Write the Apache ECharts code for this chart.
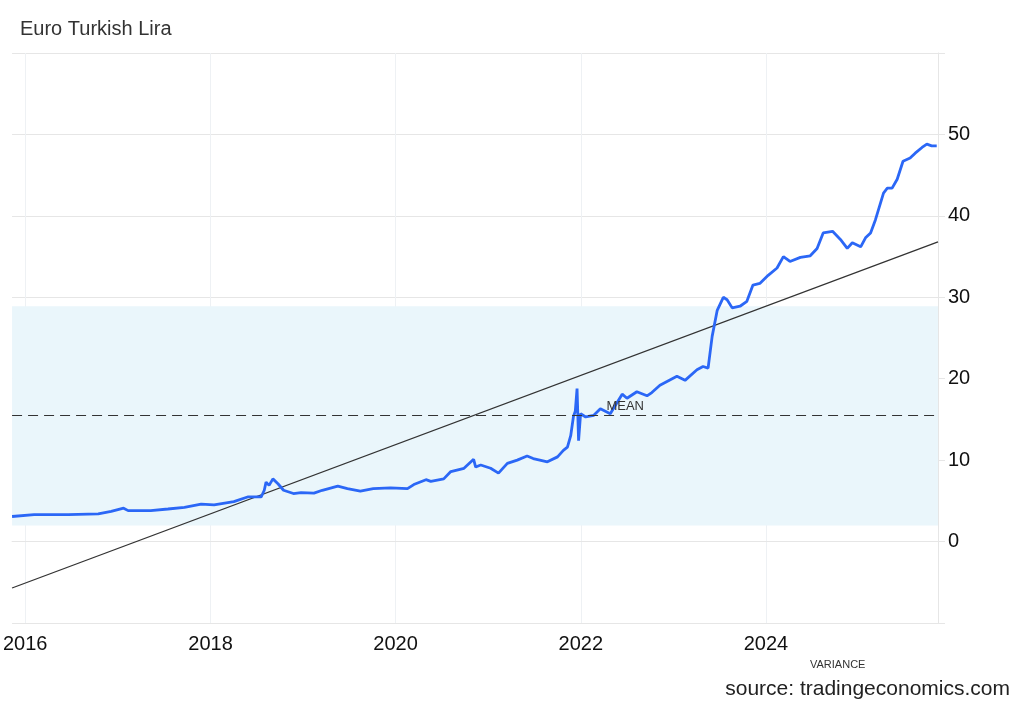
<!DOCTYPE html>
<html>
<head>
<meta charset="utf-8">
<script src="https://cdn.jsdelivr.net/npm/echarts@6/dist/echarts.min.js"></script>
<style>
html,body{margin:0;padding:0;background:#fff;}
#chart{width:1024px;height:710px;}
</style>
</head>
<body>
<div id="chart"></div>
<script>
// ---- data ----
const dates = [
  '2015-11-10','2016-02-05','2016-06-18','2016-10-15','2016-12-05','2017-01-23','2017-02-10','2017-05-10',
  '2017-07-17','2017-09-20','2017-11-25','2018-01-15','2018-04-03','2018-05-30','2018-07-20','2018-08-01',
  '2018-08-08','2018-08-20','2018-09-04','2018-09-24','2018-10-16','2018-11-24','2018-12-24','2019-02-13',
  '2019-03-18','2019-05-18','2019-06-25','2019-08-15','2019-10-05','2019-12-12','2020-02-17','2020-03-13',
  '2020-04-30','2020-05-19','2020-07-09','2020-08-06','2020-09-27','2020-11-04','2020-11-12','2020-12-02',
  '2021-01-10','2021-02-10','2021-03-17','2021-04-25','2021-06-03','2021-06-27','2021-08-22','2021-10-01',
  '2021-10-24','2021-11-09','2021-11-22','2021-12-03','2021-12-10','2021-12-17','2021-12-23','2021-12-31',
  '2022-01-20','2022-02-21','2022-03-19','2022-04-27','2022-06-13','2022-07-02','2022-08-10','2022-09-19',
  '2022-10-08','2022-11-09','2023-01-15','2023-02-16','2023-04-04','2023-04-28','2023-05-18','2023-06-03',
  '2023-06-23','2023-07-17','2023-08-01','2023-08-21','2023-09-21','2023-10-18','2023-11-11','2023-12-08',
  '2024-01-10','2024-02-14','2024-03-10','2024-04-05','2024-05-16','2024-06-24','2024-07-21','2024-08-14',
  '2024-09-20','2024-10-21','2024-11-17','2024-12-07','2025-01-09','2025-01-28','2025-02-17','2025-03-08',
  '2025-04-09','2025-04-24','2025-05-13','2025-06-02','2025-06-25','2025-07-23','2025-08-12','2025-09-08',
  '2025-09-27','2025-10-16','2025-11-05'
];
const eurTry = [
  3.08,3.3,3.3,3.4,3.7,4.1,3.8,3.8,
  4.0,4.2,4.6,4.5,4.9,5.5,5.5,6.3,
  7.3,6.9,7.7,7.1,6.3,5.9,6.0,5.95,
  6.3,6.8,6.5,6.2,6.5,6.6,6.5,7.0,
  7.6,7.4,7.7,8.6,9.0,10.1,9.15,9.4,
  9.0,8.4,9.6,10.0,10.5,10.2,9.8,10.4,
  11.2,11.6,13.0,15.4,16.0,18.8,12.4,15.7,
  15.3,15.5,16.3,15.7,18.1,17.6,18.4,17.9,
  18.3,19.2,20.3,19.8,21.1,21.5,21.3,25.2,
  28.4,30.0,29.7,28.7,28.9,29.5,31.5,31.7,
  32.7,33.6,35.0,34.4,34.9,35.1,36.0,37.9,
  38.1,37.1,36.0,36.7,36.2,37.3,37.9,39.5,
  42.8,43.4,43.4,44.5,46.7,47.1,47.7,48.4,
  48.8,48.6,48.6
];
const xRange = ['2015-11-10', '2025-11-10'];
const yearTicks = ['2016-01-01','2018-01-01','2020-01-01','2022-01-01','2024-01-01'];
const yTicks = [0, 10, 20, 30, 40, 50];
const trendValues = [-5.7, 36.8];
const meanValue = 15.5;
const bandRange = [1.97, 28.9];
const meanLabelDate = '2022-06-25';

const toTs = d => Date.parse(d + 'T00:00:00Z');
const FONT = "'Liberation Sans', Arial, Helvetica, sans-serif";
const chart = echarts.init(document.getElementById('chart'), null, {renderer: 'canvas'});

const lineData = dates.map((d, i) => [toTs(d), eurTry[i]]);
const trendData = xRange.map((d, i) => [toTs(d), trendValues[i]]);
const yearTickTs = yearTicks.map(toTs);

chart.setOption({
  animation: false,
  backgroundColor: '#ffffff',
  textStyle: {fontFamily: FONT},
  title: {
    text: 'Euro Turkish Lira',
    left: 15, top: 14,
    textStyle: {fontFamily: FONT, fontSize: 20, fontWeight: 'normal', color: '#333333'}
  },
  graphic: [
    {type: 'text', right: 14, top: 679,
     style: {text: 'source: tradingeconomics.com', fontFamily: FONT, fontSize: 21, fill: '#222222'}},
    {type: 'text', left: 810, top: 659,
     style: {text: 'VARIANCE', fontFamily: FONT, fontSize: 11, fill: '#333333'}}
  ],
  grid: {left: 11, right: 86, top: 53, bottom: 87, containLabel: false},
  xAxis: {
    type: 'value',
    min: toTs(xRange[0]), max: toTs(xRange[1]),
    axisLine: {show: true, lineStyle: {color: '#e6e6e6', width: 1}},
    axisTick: {show: false, customValues: yearTickTs},
    axisLabel: {
      customValues: yearTickTs,
      formatter: v => String(new Date(v).getUTCFullYear()),
      fontFamily: FONT, fontSize: 20, color: '#111111', margin: 11
    },
    splitLine: {show: true, lineStyle: {color: '#eef1f4', width: 1}}
  },
  yAxis: {
    type: 'value',
    position: 'right',
    min: -10, max: 60, interval: 10,
    axisLine: {show: true, lineStyle: {color: '#e6e6e6', width: 1}},
    axisTick: {show: true, length: 7, lineStyle: {color: '#e6e6e6'}},
    axisLabel: {
      formatter: v => (yTicks.indexOf(v) >= 0 ? String(v) : ''),
      fontFamily: FONT, fontSize: 20, color: '#111111', margin: 10,
      padding: [4, 0, 0, 0]
    },
    splitLine: {show: true, lineStyle: {color: '#e6e6e6', width: 1}}
  },
  series: [
    {
      name: 'Trend',
      type: 'line',
      data: trendData,
      showSymbol: false,
      silent: true,
      z: 3,
      lineStyle: {color: '#333333', width: 1.3}
    },
    {
      name: 'EURTRY',
      type: 'line',
      data: lineData,
      showSymbol: false,
      z: 4,
      lineStyle: {color: '#2b67f6', width: 2.8},
      markArea: {
        silent: true,
        itemStyle: {color: '#eaf6fb'},
        data: [[{yAxis: bandRange[0]}, {yAxis: bandRange[1]}]]
      },
      markLine: {
        silent: true,
        symbol: 'none',
        label: {show: false},
        lineStyle: {color: '#333333', type: [10, 6], width: 1},
        data: [{yAxis: meanValue}]
      },
      markPoint: {
        silent: true,
        symbol: 'circle', symbolSize: 0,
        label: {show: true, formatter: 'MEAN', position: 'top', distance: 2,
                fontFamily: FONT, fontSize: 13, color: '#333333'},
        data: [{coord: [toTs(meanLabelDate), meanValue]}]
      }
    }
  ]
});
</script>
</body>
</html>
